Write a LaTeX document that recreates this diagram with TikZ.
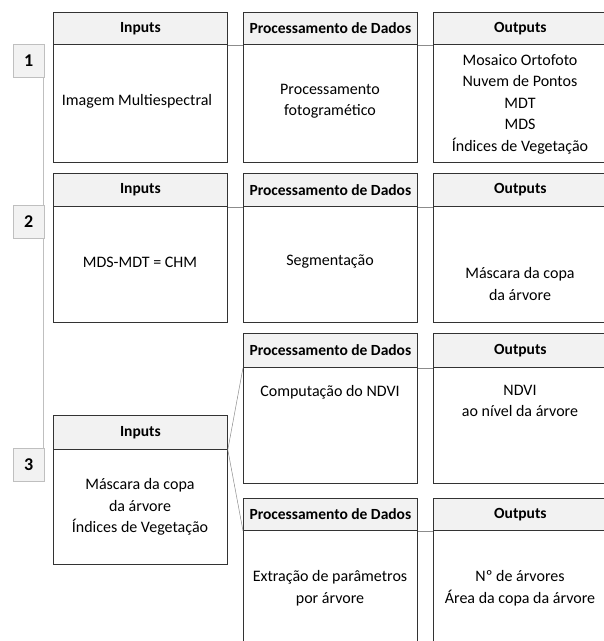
\documentclass[tikz,border=0pt]{standalone}
\usepackage{fontspec}
\setmainfont{Carlito}
\begin{document}
\begin{tikzpicture}[x=1bp,y=-1bp,
  hdr/.style={draw=black!80,fill=black!5,line width=0.8bp,anchor=north west,minimum width=174bp,inner sep=0pt,font=\fontsize{15.5bp}{20bp}\selectfont\bfseries},
  bodybox/.style={draw=black!80,fill=white,line width=0.8bp,anchor=north west,minimum width=174bp,inner sep=0pt},
  txt/.style={align=center,font=\fontsize{16bp}{21.5bp}\selectfont,inner sep=0pt},
  numbox/.style={draw=black!25,fill=black!5,line width=0.6bp,anchor=north west,minimum width=31bp,minimum height=33bp,inner sep=0pt,font=\fontsize{18bp}{20bp}\selectfont\bfseries},
  link/.style={draw=black!45,line width=0.5bp},
  spine/.style={draw=black!25,line width=1.2bp}]
\useasboundingbox (0,0) rectangle (604,641);
\clip (0,0) rectangle (604,641);
% spine
\coordinate (sp1) at (43.5,77);
\coordinate (sp3) at (43.5,448);
\draw[spine] (sp1) -- (sp3);
% number boxes
\node[numbox] (n1) at (13,44) {1};
\node[numbox] (n2) at (13,205) {2};
\node[numbox] (n3) at (13,448) {3};
% row 1
\node[hdr,minimum height=32bp] (i1h) at (53,12) {Inputs};
\node[bodybox,minimum height=118bp] (i1b) at (53,44) {};
\node[hdr,minimum height=32bp] (p1h) at (243,12) {Processamento de Dados};
\node[bodybox,minimum height=118bp] (p1b) at (243,44) {};
\node[hdr,minimum height=32bp] (o1h) at (433,12) {Outputs};
\node[bodybox,minimum height=118bp] (o1b) at (433,44) {};
\node[txt] (i1t) at (137,101) {Imagem Multiespectral};
\node[txt] (p1t) at (330,101) {Processamento\\fotogramético};
\node[txt] (o1t) at (520,104) {Mosaico Ortofoto\\Nuvem de Pontos\\MDT\\MDS\\Índices de Vegetação};
\draw[link] (i1h.south east) -- (p1h.south west);
\draw[link] (p1h.south east) -- (o1h.south west);
% row 2
\node[hdr,minimum height=33bp] (i2h) at (53,173) {Inputs};
\node[bodybox,minimum height=116bp] (i2b) at (53,206) {};
\node[hdr,minimum height=33bp] (p2h) at (243,173) {Processamento de Dados};
\node[bodybox,minimum height=116bp] (p2b) at (243,206) {};
\node[hdr,minimum height=33bp] (o2h) at (433,173) {Outputs};
\node[bodybox,minimum height=116bp] (o2b) at (433,206) {};
\node[txt] (i2t) at (140,262) {MDS-MDT = CHM};
\node[txt] (p2t) at (330,262) {Segmentação};
\node[txt] (o2t) at (520,284) {Máscara da copa\\da árvore};
\draw[link] (i2h.south east) -- (p2h.south west);
\draw[link] (p2h.south east) -- (o2h.south west);
% row 3a
\node[hdr,minimum height=34bp] (p3h) at (243,333) {Processamento de Dados};
\node[bodybox,minimum height=116bp] (p3b) at (243,367) {};
\node[hdr,minimum height=34bp] (o3h) at (433,333) {Outputs};
\node[bodybox,minimum height=116bp] (o3b) at (433,367) {};
\node[txt] (p3t) at (330,392) {Computação do NDVI};
\node[txt] (o3t) at (520,401) {NDVI\\ao nível da árvore};
\draw[link] (p3h.south east) -- (o3h.south west);
% row 3 inputs
\node[hdr,minimum height=34bp] (i3h) at (53,415) {Inputs};
\node[bodybox,minimum height=115bp] (i3b) at (53,449) {};
\node[txt] (i3t) at (140,507) {Máscara da copa\\da árvore\\Índices de Vegetação};
% row 3b
\node[hdr,minimum height=32bp] (p4h) at (243,498) {Processamento de Dados};
\node[bodybox,minimum height=130bp] (p4b) at (243,530) {};
\node[hdr,minimum height=32bp] (o4h) at (433,498) {Outputs};
\node[bodybox,minimum height=130bp] (o4b) at (433,530) {};
\node[txt] (p4t) at (330,588) {Extração de parâmetros\\por árvore};
\node[txt] (o4t) at (520,588) {Nº de árvores\\Área da copa da árvore};
\draw[link] (p4h.south east) -- (o4h.south west);
% branch links
\draw[link] (i3h.south east) -- (p3h.south west);
\draw[link] (i3h.south east) -- (p4h.south west);
\end{tikzpicture}
\end{document}
